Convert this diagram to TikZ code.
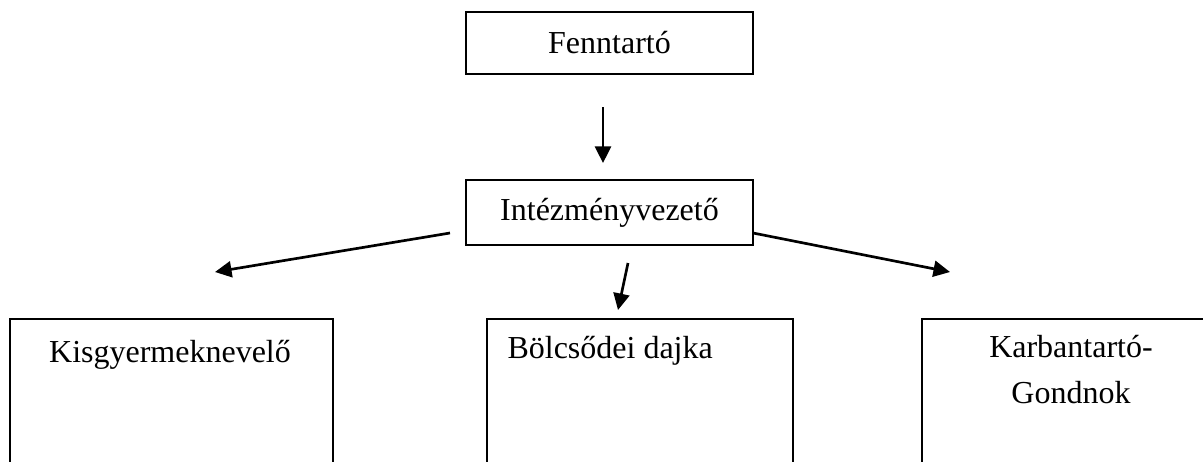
\documentclass[tikz,border=0pt]{standalone}
\usepackage{fontspec}
\setmainfont{Liberation Serif}
\usetikzlibrary{arrows.meta}
\tikzset{
  doboz/.style={draw,line width=0.7pt,inner sep=0pt,font=\fontsize{12}{16.9}\selectfont},
  szoveg/.style={inner sep=0pt,font=\fontsize{12}{16.9}\selectfont},
  nyil/.style={->,line width=1pt},
}
\begin{document}
\begin{tikzpicture}[x=0.375pt,y=-0.375pt,>={Triangle[length=6.2pt,width=6pt]}]
	\useasboundingbox (0,0) rectangle (1203,461);
	\clip (0,0) rectangle (1203,461);
	\node[doboz,minimum width=107.6pt,minimum height=23.25pt] (fenntarto) at (609.5,43) {Fenntartó};
	\node[doboz,minimum width=107.6pt,minimum height=24.4pt] (vezeto) at (609.5,212.5) {Intézményvezető};
	\node[doboz,minimum width=121.1pt,minimum height=67.9pt] (kisgy) at (171.5,409.5) {};
	\node[doboz,minimum width=114.75pt,minimum height=67.9pt] (dajka) at (640,409.5) {};
	\node[doboz,minimum width=112.5pt,minimum height=67.9pt] (karb) at (1072,409.5) {};
	\node[szoveg,anchor=base] (kisgyszoveg) at (170,362) {Kisgyermeknevelő};
	\node[szoveg,anchor=base west] (dajkaszoveg) at (507,358) {Bölcsődei dajka};
	\node[szoveg,anchor=base,align=center] (karbszoveg) at (1071,403) {Karbantartó-\\Gondnok};
	\coordinate (f1) at (603,107);
	\coordinate (f2) at (603,163);
	\coordinate (b1) at (450,233);
	\coordinate (b2) at (215,272);
	\coordinate (k1) at (628,263);
	\coordinate (k2) at (618,310);
	\coordinate (j1) at (753,233);
	\coordinate (j2) at (950,272);
	\draw[nyil] (f1)--(f2);
	\draw[nyil] (b1)--(b2);
	\draw[nyil] (k1)--(k2);
	\draw[nyil] (j1)--(j2);
\end{tikzpicture}
\end{document}
